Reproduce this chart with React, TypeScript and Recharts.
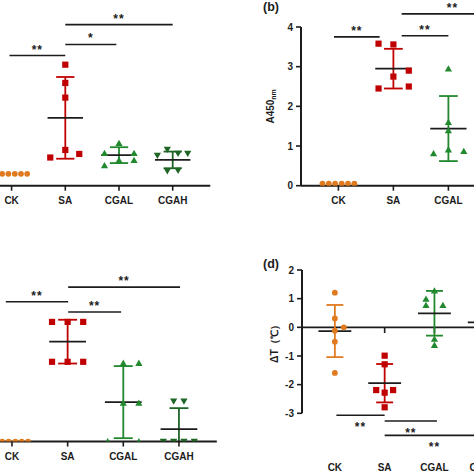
import React from 'react';
import { ComposedChart, Scatter, XAxis, YAxis, ReferenceLine, Label } from 'recharts';

const categories = ['CK', 'SA', 'CGAL', 'CGAH'];

// ---- panel (a) ----
const aCK = [0.3, 0.3, 0.3, 0.3, 0.3, 0.3];
const aSA = [3.05, 2.59, 2.22, 0.9, 0.71, 0.8];
const aCGAL = [1.07, 0.82, 0.82, 0.51, 0.64, 0.64];
const aCGAH = [0.91, 0.81, 0.81, 0.76, 0.37, 0.38];
const aMean = [0.3, 1.71, 0.77, 0.65];
const aSD = [0, 1.03, 0.2, 0.21];

// ---- panel (b) ----
const bCK = [0.05, 0.05, 0.05, 0.05, 0.05, 0.05];
const bSA = [3.58, 3.56, 2.9, 2.75, 2.45, 2.5];
const bCGAL = [2.95, 1.6, 1.39, 0.91, 0.81, 0.87];
const bMean = [0.05, 2.95, 1.44];
const bSD = [0, 0.5, 0.82];
const bTicks = [0, 1, 2, 3, 4];

// ---- panel (c) ----
const cCK = [0, 0, 0, 0, 0, 0];
const cSA = [2.79, 2.79, 2.79, 1.86, 1.86, 1.86];
const cCGAL = [1.83, 1.83, 0.9, 0.9, 0, 0];
const cCGAH = [0.94, 0.94, 0, 0, 0, 0];
const cMean = [0, 2.33, 0.92, 0.29];
const cSD = [0, 0.51, 0.84, 0.49];

// ---- panel (d) ----
const dCK = [1.21, 0.31, 0.0, -0.12, -0.5, -1.59];
const dSA = [-0.99, -1.29, -2.19, -2.19, -2.28, -2.79];
const dCGAL = [1.28, 0.99, 0.77, 0.77, -0.41, -0.62];
const dMean = [-0.13, -1.95, 0.49, 0.17];
const dSD = [0.91, 0.67, 0.78, 0.6];
const dTicks = [-3, -2, -1, 0, 1, 2];

// significance brackets: [from category, to category, height, mark]
type Sig = [number, number, number, string];
const aSig: Sig[] = [[-0.04, 1, 3.28, '**'], [1, 1.95, 3.56, '*'], [1, 3, 4.06, '**']];
const bSig: Sig[] = [[-0.08, 0.75, 3.75, '**'], [1.15, 2, 3.78, '**'], [1.15, 3, 4.33, '**']];
const cSig: Sig[] = [[-0.11, 1.01, 3.26, '**'], [1.01, 1.96, 3.02, '**'], [1.01, 3.02, 3.6, '**']];
const dSig: Sig[] = [[0.03, 1, -3.07, '**'], [1, 2.05, -3.27, '**'], [1, 3, -3.77, '**']];

// scatter jitter (horizontal spread of the dots, in category widths)
const rowJit = [-0.29, -0.175, -0.06, 0.06, 0.175, 0.29];
const aSAJit = [0, 0, 0, 0, -0.28, 0.26];
const aCGALJit = [0, -0.27, 0.28, -0.27, 0, 0.28];
const aCGAHJit = [-0.1, 0.1, 0.28, -0.285, -0.1, 0.1];
const bSAJit = [-0.27, 0, 0.28, 0, -0.27, 0.28];
const bCGALJit = [0, 0, 0, 0, -0.27, 0.28];
const cSAJit = [-0.28, 0, 0.28, -0.28, 0, 0.28];
const cCGALJit = [0, 0.28, 0, 0.28, -0.28, 0.28];
const cCGAHJit = [-0.095, 0.09, -0.28, -0.095, 0.09, 0.275];
const dCKJit = [0, 0, 0.18, 0, 0, 0];
const dSAJit = [0, 0, -0.17, 0.17, 0, 0];
const dCGALJit = [0, -0.17, -0.17, 0.17, 0, 0];

const INK = '#1c1c1c';
const ORANGE = '#E07A1F';
const RED = '#C00000';
const GREEN = '#22892E';
const DKGREEN = '#1E6526';
const groupColors = [ORANGE, RED, GREEN, DKGREEN];

const M = 40;
const FONT = '"Liberation Sans", Arial, sans-serif';

const pts = (vals: number[], jit: number[], cat: number) =>
  vals.map((v, i) => ({ x: cat + jit[i], y: v }));

const circle = (c: string) => (p: any) => <circle cx={p.cx} cy={p.cy} r={2.9} fill={c} />;
const square = (c: string) => (p: any) => (
  <rect x={p.cx - 3.1} y={p.cy - 3.1} width={6.2} height={6.2} fill={c} />
);
const triUp = (c: string) => (p: any) => (
  <polygon
    points={`${p.cx},${p.cy - 3.5} ${p.cx + 3.6},${p.cy + 2.8} ${p.cx - 3.6},${p.cy + 2.8}`}
    fill={c}
  />
);
const triDown = (c: string) => (p: any) => (
  <polygon
    points={`${p.cx},${p.cy + 3.5} ${p.cx + 3.6},${p.cy - 2.8} ${p.cx - 3.6},${p.cy - 2.8}`}
    fill={c}
  />
);

function errorBars(means: number[], sds: number[], yMin: number, prefix: string) {
  const els: any[] = [];
  means.forEach((m, i) => {
    const sd = sds[i];
    if (sd <= 0) return;
    const hi = m + sd;
    const lo = Math.max(yMin, m - sd);
    const col = groupColors[i];
    els.push(
      <ReferenceLine key={`${prefix}v${i}`} segment={[{ x: i, y: lo }, { x: i, y: hi }]}
        stroke={col} strokeWidth={1.8} ifOverflow="visible" />
    );
    els.push(
      <ReferenceLine key={`${prefix}h${i}`} segment={[{ x: i - 0.17, y: hi }, { x: i + 0.17, y: hi }]}
        stroke={col} strokeWidth={1.8} ifOverflow="visible" />
    );
    if (m - sd >= yMin) {
      els.push(
        <ReferenceLine key={`${prefix}l${i}`} segment={[{ x: i - 0.17, y: lo }, { x: i + 0.17, y: lo }]}
          stroke={col} strokeWidth={1.8} ifOverflow="visible" />
      );
    }
    els.push(
      <ReferenceLine key={`${prefix}m${i}`} segment={[{ x: i - 0.33, y: m }, { x: i + 0.33, y: m }]}
        stroke={INK} strokeWidth={1.8} ifOverflow="visible" />
    );
  });
  return els;
}

function sigLines(sigs: Sig[], pos: 'top' | 'bottom', offset: number, prefix: string) {
  return sigs.map(([x1, x2, y, mark], i) => (
    <ReferenceLine
      key={`${prefix}s${i}`}
      segment={[{ x: x1, y }, { x: x2, y }]}
      stroke={INK}
      strokeWidth={1.6}
      ifOverflow="visible"
      label={{ value: mark, position: pos, offset, fill: INK, fontSize: 12, fontWeight: 700, letterSpacing: 1 }}
    />
  ));
}

type PanelProps = {
  plotLeft: number;
  plotTop: number;
  plotW: number;
  plotH: number;
  yw: number;
  xh: number;
  xDomain: [number, number];
  yDomain: [number, number];
  showY: boolean;
  yTicks?: number[];
  xAxisLine: boolean;
  xTickSize: number;
  xTickMargin: number;
  yLabel?: (left: number, top: number) => any;
  children: any;
};

function Panel(p: PanelProps) {
  const left = p.plotLeft - M - p.yw;
  const top = p.plotTop - M;
  const width = M + p.yw + p.plotW + M;
  const height = M + p.plotH + p.xh + M;
  return (
    <div style={{ position: 'absolute', left, top, width, height }}>
      <ComposedChart width={width} height={height} margin={{ top: M, right: M, bottom: M, left: M }}>
        <XAxis
          type="number"
          dataKey="x"
          domain={p.xDomain}
          allowDataOverflow
          ticks={[0, 1, 2, 3]}
          interval={0}
          tickFormatter={(v: number) => categories[v] ?? ''}
          height={p.xh}
          axisLine={p.xAxisLine ? { stroke: INK, strokeWidth: 2 } : false}
          tickLine={p.xTickSize > 0 ? { stroke: INK, strokeWidth: 1.6 } : false}
          tickSize={p.xTickSize}
          tickMargin={p.xTickMargin}
          tick={{ fill: INK, fontSize: 10, fontWeight: 700 }}
        />
        {p.showY ? (
          <YAxis
            type="number"
            dataKey="y"
            domain={p.yDomain}
            allowDataOverflow
            ticks={p.yTicks}
            interval={0}
            width={p.yw}
            axisLine={{ stroke: INK, strokeWidth: 2 }}
            tickLine={{ stroke: INK, strokeWidth: 1.6 }}
            tickSize={5}
            tickMargin={3}
            tick={{ fill: INK, fontSize: 10, fontWeight: 700 }}
          >
            {p.yLabel ? <Label content={() => p.yLabel!(left, top)} /> : null}
          </YAxis>
        ) : (
          <YAxis type="number" dataKey="y" domain={p.yDomain} allowDataOverflow hide width={0} />
        )}
        {p.children}
      </ComposedChart>
    </div>
  );
}

export default function App() {
  return (
    <div
      style={{
        position: 'absolute',
        left: 0,
        top: 0,
        width: 474,
        height: 474,
        overflow: 'hidden',
        background: '#fff',
        fontFamily: FONT,
      }}
    >
      {/* (a) */}
      <Panel plotLeft={-26.4} plotTop={27.3} plotW={236.3} plotH={158.7} yw={0} xh={30}
        xDomain={[-0.7, 3.7]} yDomain={[0, 4]} showY={false} xAxisLine xTickSize={5} xTickMargin={6}>
        {errorBars(aMean, aSD, 0, 'a')}
        {sigLines(aSig, 'top', 2, 'a')}
        <Scatter data={pts(aCK, rowJit, 0)} shape={circle(ORANGE)} isAnimationActive={false} />
        <Scatter data={pts(aSA, aSAJit, 1)} shape={square(RED)} isAnimationActive={false} />
        <Scatter data={pts(aCGAL, aCGALJit, 2)} shape={triUp(GREEN)} isAnimationActive={false} />
        <Scatter data={pts(aCGAH, aCGAHJit, 3)} shape={triDown(DKGREEN)} isAnimationActive={false} />
      </Panel>

      {/* (b) */}
      <Panel plotLeft={301.3} plotTop={27.3} plotW={240.9} plotH={158.7} yw={40} xh={30}
        xDomain={[-0.68, 3.7]} yDomain={[0, 4]} showY yTicks={bTicks} xAxisLine xTickSize={5} xTickMargin={6}
        yLabel={(l, t) => {
          const cx = 270.5 - l;
          const cy = 106.7 - t;
          return (
            <text x={cx} y={cy} transform={`rotate(-90 ${cx} ${cy})`} textAnchor="middle"
              dominantBaseline="central" fontSize={10} fontWeight={700} fill={INK}>
              A450<tspan fontSize={7} dy={2.5}>nm</tspan>
            </text>
          );
        }}>
        {errorBars(bMean, bSD, 0, 'b')}
        {sigLines(bSig, 'top', 2, 'b')}
        <Scatter data={pts(bCK, rowJit, 0)} shape={circle(ORANGE)} isAnimationActive={false} />
        <Scatter data={pts(bSA, bSAJit, 1)} shape={square(RED)} isAnimationActive={false} />
        <Scatter data={pts(bCGAL, bCGALJit, 2)} shape={triUp(GREEN)} isAnimationActive={false} />
      </Panel>

      {/* (c) */}
      <Panel plotLeft={-27} plotTop={269.7} plotW={243.8} plotH={171.6} yw={0} xh={30}
        xDomain={[-0.7, 3.68]} yDomain={[0, 4]} showY={false} xAxisLine xTickSize={5} xTickMargin={6}>
        {errorBars(cMean, cSD, 0, 'c')}
        {sigLines(cSig, 'top', 2, 'c')}
        <Scatter data={pts(cCK, rowJit, 0)} shape={circle(ORANGE)} isAnimationActive={false} />
        <Scatter data={pts(cSA, cSAJit, 1)} shape={square(RED)} isAnimationActive={false} />
        <Scatter data={pts(cCGAL, cCGALJit, 2)} shape={triUp(GREEN)} isAnimationActive={false} />
        <Scatter data={pts(cCGAH, cCGAHJit, 3)} shape={triDown(DKGREEN)} isAnimationActive={false} />
      </Panel>

      {/* (d) */}
      <Panel plotLeft={301.8} plotTop={269.7} plotW={217.1} plotH={143.3} yw={40} xh={64}
        xDomain={[-0.66, 3.7]} yDomain={[-3, 2]} showY yTicks={dTicks} xAxisLine={false} xTickSize={0} xTickMargin={51}
        yLabel={(l, t) => {
          const cx = 274.5 - l;
          const cy = 341.3 - t;
          return (
            <text x={cx} y={cy} transform={`rotate(-90 ${cx} ${cy})`} textAnchor="middle"
              dominantBaseline="central" fontSize={10.5} fontWeight={700} fill={INK}>
              ΔT（℃）
            </text>
          );
        }}>
        <ReferenceLine y={0} stroke={INK} strokeWidth={1.8} />
        {categories.map((_, i) => (
          <ReferenceLine key={`dt${i}`} segment={[{ x: i, y: 0 }, { x: i, y: -0.2 }]} stroke={INK} strokeWidth={1.6} />
        ))}
        {errorBars(dMean, dSD, -3, 'd')}
        {sigLines(dSig, 'bottom', 7, 'd')}
        <Scatter data={pts(dCK, dCKJit, 0)} shape={circle(ORANGE)} isAnimationActive={false} />
        <Scatter data={pts(dSA, dSAJit, 1)} shape={square(RED)} isAnimationActive={false} />
        <Scatter data={pts(dCGAL, dCGALJit, 2)} shape={triUp(GREEN)} isAnimationActive={false} />
      </Panel>

      <div style={{ position: 'absolute', left: 263, top: 1, fontSize: 12.5, fontWeight: 700, lineHeight: '13px', color: INK }}>
        (b)
      </div>
      <div style={{ position: 'absolute', left: 263, top: 258, fontSize: 12.5, fontWeight: 700, lineHeight: '13px', color: INK }}>
        (d)
      </div>
    </div>
  );
}
